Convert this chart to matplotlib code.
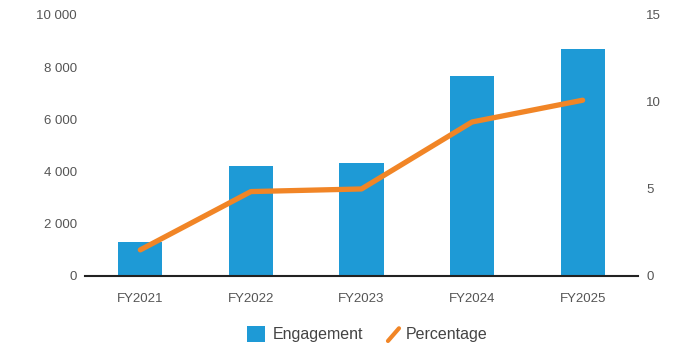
import matplotlib
matplotlib.use("Agg")
import matplotlib.pyplot as plt
from matplotlib.ticker import FuncFormatter
from matplotlib.legend_handler import HandlerBase
from matplotlib.lines import Line2D
from matplotlib.patches import Patch

categories = ["FY2021", "FY2022", "FY2023", "FY2024", "FY2025"]
engagement = [1300, 4200, 4330, 7650, 8700]
percentage = [1.5, 4.85, 5.0, 8.85, 10.1]

left_ticks = [0, 2000, 4000, 6000, 8000, 10000]
right_ticks = [0, 5, 10, 15]

BAR = "#1E9AD6"
LINE = "#F18526"
TEXT = "#555555"

plt.rcParams["font.family"] = ["Liberation Sans", "DejaVu Sans"]

fig = plt.figure(figsize=(6.83, 3.48), dpi=100)
ax = fig.add_axes([0.1245, 0.207, 0.8095, 0.75])
x = list(range(len(categories)))
ax.bar(x, engagement, width=0.4, color=BAR, zorder=2)
ax.set_xlim(-0.5, 4.5)
ax.set_ylim(0, 10000)
ax.set_yticks(left_ticks)
ax.yaxis.set_major_formatter(FuncFormatter(lambda v, p: f"{int(v):,}".replace(",", " ")))
ax.set_xticks(x)
ax.set_xticklabels(categories)
for s in ["top", "left", "right"]:
    ax.spines[s].set_visible(False)
ax.spines["bottom"].set_color("#222222")
ax.spines["bottom"].set_linewidth(1.5)
ax.spines["bottom"].set_zorder(3)
ax.tick_params(axis="both", length=0, colors=TEXT, labelsize=9.5)
ax.tick_params(axis="y", pad=6)
ax.tick_params(axis="x", pad=12)

ax2 = ax.twinx()
ax2.set_ylim(0, 15)
ax2.set_yticks(right_ticks)
for s in ["top", "left", "right", "bottom"]:
    ax2.spines[s].set_visible(False)
ax2.tick_params(axis="y", length=0, colors=TEXT, labelsize=9.5, pad=6)
ax2.plot(x, percentage, color=LINE, linewidth=3.8, solid_capstyle="round",
         solid_joinstyle="round", zorder=4)


class DiagonalLineHandler(HandlerBase):
    def create_artists(self, legend, orig_handle, xdescent, ydescent,
                       width, height, fontsize, trans):
        x0 = -xdescent
        y0 = -ydescent
        line = Line2D([x0 + width * 0.4, x0 + width * 1.0],
                      [y0 + height * 0.05, y0 + height * 0.85],
                      color=LINE, linewidth=3, solid_capstyle="round",
                      transform=trans)
        return [line]


bar_handle = Patch(facecolor=BAR, edgecolor="none")
line_handle = Line2D([], [], color=LINE)
leg = fig.legend([bar_handle, line_handle], ["Engagement", "Percentage"],
                 loc="center", bbox_to_anchor=(0.538, 0.04), ncol=2,
                 frameon=False, fontsize=11.5, handlelength=1.15, handleheight=1.15,
                 handletextpad=0.45, columnspacing=1.1,
                 handler_map={Line2D: DiagonalLineHandler()})
for t in leg.get_texts():
    t.set_color("#444444")

fig.savefig("out.png", dpi=100)
